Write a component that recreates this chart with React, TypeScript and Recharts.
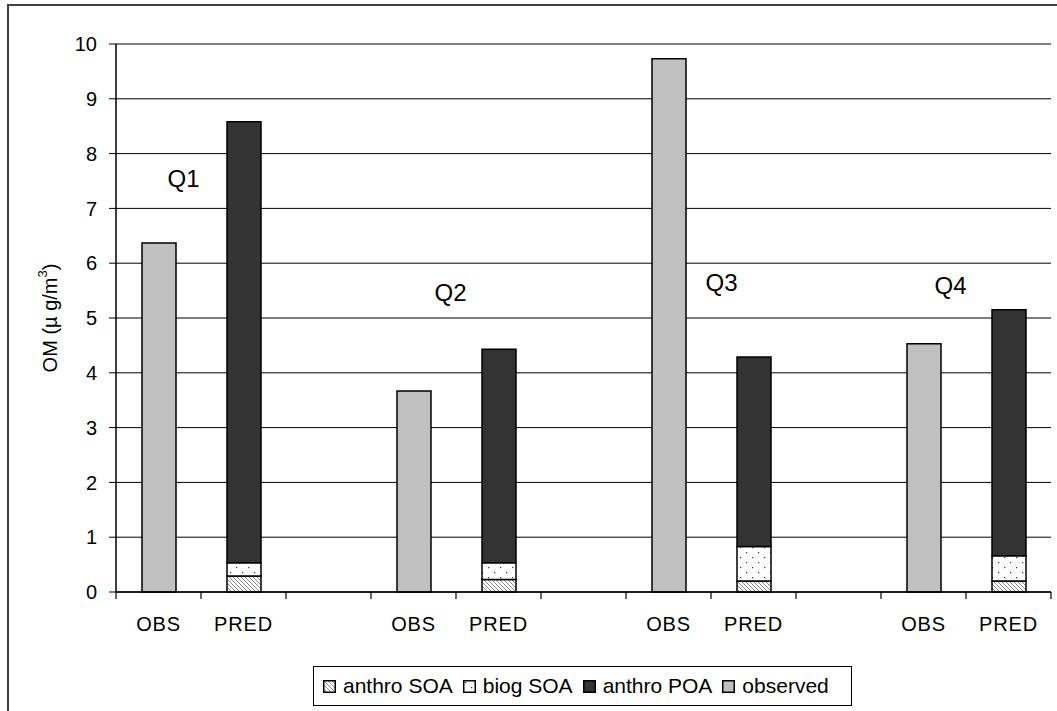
import React from 'react';
import { BarChart, Bar, XAxis, YAxis, CartesianGrid, Legend, ReferenceLine, ReferenceDot, Label } from 'recharts';

// values (OM, µg/m3)
const quarters = ['Q1', 'Q2', 'Q3', 'Q4'];
const observed = [6.37, 3.67, 9.73, 4.53];
const anthroSOA = [0.29, 0.23, 0.2, 0.2];
const biogSOA = [0.245, 0.305, 0.63, 0.46];
const anthroPOA = [8.045, 3.895, 3.46, 4.49];
const yTicks = [0, 1, 2, 3, 4, 5, 6, 7, 8, 9, 10];

// where the free-floating quarter labels sit (y in data units, dx in px from the OBS bar)
const qLabelY = [7.55, 5.47, 5.64, 5.6];
const qLabelDx = [25, 37, 53, 27];

const FONT = '"Liberation Sans", Arial, sans-serif';
const BAND = (1057 - 116 - 6) / 11;

const rows: any[] = [];
quarters.forEach((q, i) => {
  rows.push({ key: `${q}-OBS`, label: 'OBS', observed: observed[i] });
  rows.push({ key: `${q}-PRED`, label: 'PRED', anthroSOA: anthroSOA[i], biogSOA: biogSOA[i], anthroPOA: anthroPOA[i] });
  if (i < quarters.length - 1) rows.push({ key: `${q}-gap`, label: '' });
});

const legendItems = [
  { name: 'anthro SOA', fill: 'url(#hatch)' },
  { name: 'biog SOA', fill: 'url(#dots)' },
  { name: 'anthro POA', fill: '#333333' },
  { name: 'observed', fill: '#C0C0C0' },
];

const SepTick = (props: any) => {
  const { x, y, payload, index } = props;
  const axisY = y - 6 - 19;
  const row = rows.find((r) => r.key === payload.value);
  return (
    <g>
      <line x1={x - BAND / 2} x2={x - BAND / 2} y1={axisY} y2={axisY + 7} stroke="#000" strokeWidth={1.2} />
      {index === rows.length - 1 && (
        <line x1={x + BAND / 2} x2={x + BAND / 2} y1={axisY} y2={axisY + 7} stroke="#000" strokeWidth={1.2} />
      )}
      <text x={x} y={y} dy="0.71em" textAnchor="middle" fontSize={20} fill="#000" letterSpacing={0.8} fontFamily={FONT}>
        {row ? row.label : ''}
      </text>
    </g>
  );
};

const YLabel = (props: any) => {
  const { viewBox } = props;
  const cx = viewBox.x + 50;
  const cy = 318;
  return (
    <text transform={`translate(${cx},${cy}) rotate(-90)`} textAnchor="middle" dominantBaseline="central" fontSize={20} fill="#000" fontFamily={FONT}>
      OM (µ g/m<tspan dy={-8} fontSize={13}>3</tspan><tspan dy={8}>)</tspan>
    </text>
  );
};

const LegendBox = () => (
  <div
    style={{
      boxSizing: 'border-box',
      width: 539,
      height: 40,
      border: '1px solid #000',
      background: '#fff',
      display: 'flex',
      alignItems: 'center',
      paddingLeft: 9,
      fontFamily: FONT,
      fontSize: 21,
      color: '#000',
    }}
  >
    {legendItems.map((it) => (
      <div key={it.name} style={{ display: 'flex', alignItems: 'center', marginRight: 10 }}>
        <svg width={13} height={13} style={{ marginRight: 7 }}>
          <rect x={0.75} y={0.75} width={11.5} height={11.5} fill={it.fill} stroke="#000" strokeWidth={1.5} />
        </svg>
        <span>{it.name}</span>
      </div>
    ))}
  </div>
);

export default function App() {
  return (
    <div style={{ position: 'absolute', left: 0, top: 0, width: 1057, height: 711, overflow: 'hidden', background: '#fff' }}>
      <svg width={0} height={0} style={{ position: 'absolute' }}>
        <defs>
          <pattern id="hatch" patternUnits="userSpaceOnUse" width={4} height={4}>
            <rect width={4} height={4} fill="#fff" />
            <path d="M-1,-1 L5,5 M3,-1 L5,1 M-1,3 L1,5" stroke="#8c8c8c" strokeWidth={1} />
          </pattern>
          <pattern id="dots" patternUnits="userSpaceOnUse" width={12} height={10}>
            <rect width={12} height={10} fill="#fff" />
            <rect x={2} y={2} width={1.2} height={1.2} fill="#333" />
            <rect x={8} y={7} width={1.2} height={1.2} fill="#333" />
          </pattern>
        </defs>
      </svg>
      <div style={{ position: 'absolute', left: 7, top: 4, width: 1200, height: 900, border: '2px solid #404040' }} />
      <div style={{ position: 'absolute', left: 0, top: 0 }}>
        <BarChart width={1057} height={711} data={rows} margin={{ top: 44, right: 6, left: 0, bottom: 39 }} style={{ fontFamily: FONT }}>
          <CartesianGrid horizontal vertical={false} stroke="#000" strokeWidth={1} />
          <XAxis
            dataKey="key"
            interval={0}
            height={40}
            tickLine={false}
            tickMargin={19}
            axisLine={{ stroke: '#000', strokeWidth: 1.5 }}
            tick={<SepTick />}
          />
          <YAxis
            domain={[0, 10]}
            ticks={yTicks}
            width={116}
            tickSize={7}
            tickMargin={12}
            axisLine={{ stroke: '#000', strokeWidth: 1.5 }}
            tickLine={{ stroke: '#000' }}
            tick={{ fontSize: 20, fill: '#000', fontFamily: FONT }}
          >
            <Label content={<YLabel />} />
          </YAxis>
          <YAxis
            yAxisId="right"
            orientation="right"
            domain={[0, 10]}
            width={0}
            tick={false}
            tickLine={false}
            axisLine={{ stroke: '#808080', strokeWidth: 2 }}
          />
          <Legend verticalAlign="bottom" content={<LegendBox />} wrapperStyle={{ left: 313, bottom: 5, width: 539, height: 40 }} />
          <Bar dataKey="anthroSOA" stackId="a" fill="url(#hatch)" stroke="#000" strokeWidth={1.5} barSize={34} isAnimationActive={false} />
          <Bar dataKey="biogSOA" stackId="a" fill="url(#dots)" stroke="#000" strokeWidth={1.5} barSize={34} isAnimationActive={false} />
          <Bar dataKey="anthroPOA" stackId="a" fill="#333333" stroke="#000" strokeWidth={1.5} barSize={34} isAnimationActive={false} />
          <Bar dataKey="observed" stackId="a" fill="#C0C0C0" stroke="#000" strokeWidth={1.5} barSize={34} isAnimationActive={false} />
          <ReferenceLine y={10} stroke="#808080" strokeWidth={2} />
          {quarters.map((q, i) => (
            <ReferenceDot
              key={q}
              x={`${q}-OBS`}
              y={qLabelY[i]}
              r={0}
              fill="none"
              stroke="none"
              label={{
                content: (p: any) => (
                  <text
                    x={p.viewBox.x + p.viewBox.width / 2 + qLabelDx[i]}
                    y={p.viewBox.y + p.viewBox.height / 2}
                    textAnchor="middle"
                    dominantBaseline="central"
                    fontSize={24}
                    fill="#000"
                    fontFamily={FONT}
                  >
                    {q}
                  </text>
                ),
              }}
            />
          ))}
        </BarChart>
      </div>
    </div>
  );
}
